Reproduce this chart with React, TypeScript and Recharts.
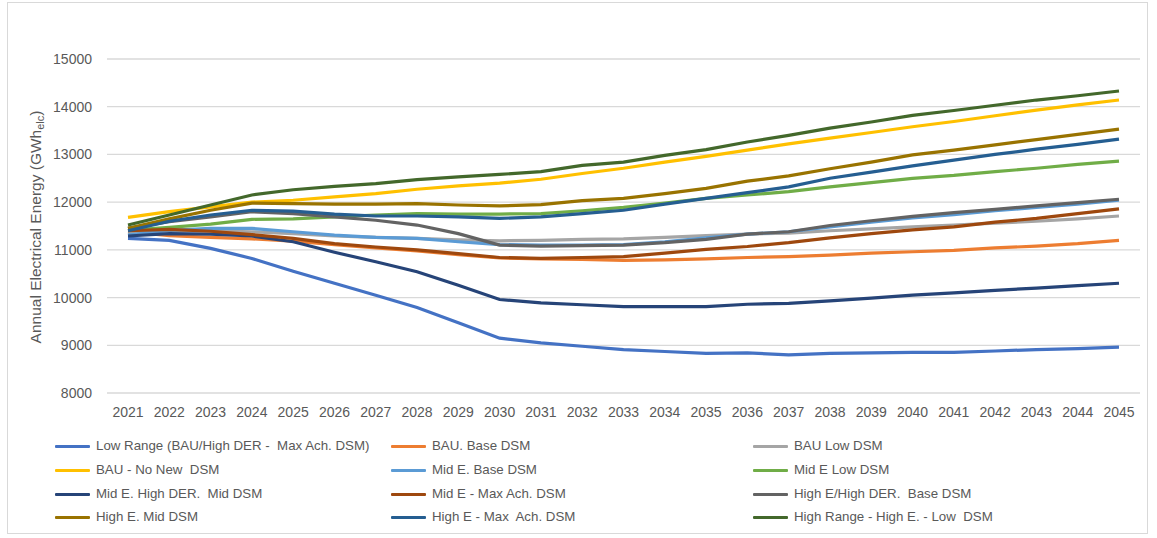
import React from 'react';
import { LineChart, Line, XAxis, YAxis, CartesianGrid } from 'recharts';

const years = ['2021','2022','2023','2024','2025','2026','2027','2028','2029','2030','2031','2032','2033','2034','2035','2036','2037','2038','2039','2040','2041','2042','2043','2044','2045'];
const yTicks = [8000, 9000, 10000, 11000, 12000, 13000, 14000, 15000];

const lowRange = [11240, 11200, 11030, 10820, 10550, 10300, 10050, 9790, 9470, 9150, 9050, 8980, 8910, 8870, 8830, 8840, 8800, 8830, 8840, 8850, 8850, 8880, 8910, 8930, 8960];
const bauBase = [11380, 11300, 11260, 11230, 11180, 11110, 11040, 10980, 10900, 10830, 10810, 10800, 10780, 10790, 10810, 10840, 10860, 10890, 10930, 10960, 10990, 11040, 11080, 11130, 11200];
const bauLow = [11360, 11400, 11400, 11380, 11340, 11290, 11260, 11240, 11210, 11190, 11200, 11220, 11230, 11260, 11300, 11330, 11350, 11400, 11440, 11480, 11520, 11560, 11600, 11650, 11710];
const bauNoNew = [11680, 11800, 11900, 12000, 12040, 12110, 12180, 12270, 12340, 12400, 12480, 12600, 12710, 12840, 12960, 13090, 13220, 13340, 13460, 13580, 13690, 13810, 13930, 14040, 14140];
const midBase = [11310, 11410, 11450, 11450, 11380, 11310, 11260, 11240, 11170, 11110, 11100, 11100, 11110, 11170, 11250, 11330, 11380, 11480, 11580, 11670, 11740, 11820, 11890, 11960, 12040];
const midLow = [11410, 11470, 11540, 11640, 11650, 11690, 11730, 11760, 11750, 11750, 11760, 11820, 11890, 11980, 12080, 12150, 12220, 12320, 12410, 12500, 12560, 12640, 12710, 12790, 12860];
const midHighDer = [11290, 11340, 11330, 11290, 11170, 10950, 10750, 10540, 10260, 9960, 9890, 9850, 9810, 9810, 9810, 9860, 9880, 9930, 9990, 10050, 10100, 10150, 10200, 10250, 10300];
const midMax = [11400, 11430, 11390, 11320, 11240, 11130, 11060, 11000, 10920, 10840, 10820, 10840, 10860, 10930, 11010, 11070, 11150, 11250, 11340, 11420, 11480, 11580, 11660, 11760, 11860];
const highHighDer = [11450, 11590, 11690, 11800, 11760, 11690, 11620, 11520, 11340, 11100, 11080, 11090, 11100, 11150, 11220, 11330, 11380, 11510, 11610, 11700, 11780, 11850, 11920, 11990, 12060];
const highMid = [11450, 11650, 11830, 11980, 11970, 11960, 11960, 11970, 11940, 11920, 11950, 12030, 12080, 12180, 12290, 12440, 12550, 12700, 12840, 12990, 13090, 13200, 13310, 13420, 13530];
const highMax = [11400, 11600, 11730, 11830, 11810, 11750, 11710, 11710, 11690, 11660, 11690, 11760, 11830, 11960, 12080, 12200, 12320, 12500, 12630, 12760, 12880, 13000, 13110, 13210, 13320];
const highRange = [11520, 11730, 11940, 12150, 12260, 12330, 12390, 12470, 12530, 12580, 12640, 12770, 12840, 12980, 13100, 13260, 13400, 13550, 13680, 13820, 13920, 14030, 14140, 14230, 14330];

const seriesDefs = [
  { key: 's0', name: 'Low Range (BAU/High DER -  Max Ach. DSM)', color: '#4472C4', values: lowRange },
  { key: 's1', name: 'BAU. Base DSM', color: '#ED7D31', values: bauBase },
  { key: 's2', name: 'BAU Low DSM', color: '#A5A5A5', values: bauLow },
  { key: 's3', name: 'BAU - No New  DSM', color: '#FFC000', values: bauNoNew },
  { key: 's4', name: 'Mid E. Base DSM', color: '#5B9BD5', values: midBase },
  { key: 's5', name: 'Mid E Low DSM', color: '#70AD47', values: midLow },
  { key: 's6', name: 'Mid E. High DER.  Mid DSM', color: '#264478', values: midHighDer },
  { key: 's7', name: 'Mid E - Max Ach. DSM', color: '#9E480E', values: midMax },
  { key: 's8', name: 'High E/High DER.  Base DSM', color: '#636363', values: highHighDer },
  { key: 's9', name: 'High E. Mid DSM', color: '#997300', values: highMid },
  { key: 's10', name: 'High E - Max  Ach. DSM', color: '#255E91', values: highMax },
  { key: 's11', name: 'High Range - High E. - Low  DSM', color: '#43682B', values: highRange },
];

const data = years.map((y, i) => {
  const row: Record<string, string | number> = { year: y };
  seriesDefs.forEach((s) => { row[s.key] = s.values[i]; });
  return row;
});

const FONT = '"Liberation Sans", Arial, sans-serif';
const TEXT = '#595959';

const colX = [55, 391, 753];
const rowY = [446, 470, 494, 517];

const LegendBlock = () => (
  <div style={{ position: 'absolute', left: 0, top: 0, width: 1157, height: 538, pointerEvents: 'none' }}>
    {seriesDefs.map((s, i) => {
      const c = i % 3;
      const r = Math.floor(i / 3);
      return (
        <div key={s.key} style={{ position: 'absolute', left: colX[c], top: rowY[r] - 9, height: 18, display: 'flex', alignItems: 'center' }}>
          <div style={{ width: 35, height: 3, background: s.color, borderRadius: 1 }} />
          <span style={{ marginLeft: 6, fontFamily: FONT, fontSize: 13.3, color: TEXT, whiteSpace: 'pre', lineHeight: '18px' }}>{s.name}</span>
        </div>
      );
    })}
  </div>
);

const YLabel = () => (
  <text transform="translate(41, 227) rotate(-90)" textAnchor="middle" fontFamily={FONT} fontSize={15.5} fill={TEXT}>
    <tspan>Annual Electrical Energy (GWh</tspan>
    <tspan fontSize={11} dy={3}>elc</tspan>
    <tspan dy={-3}>)</tspan>
  </text>
);

export default function App() {
  return (
    <div style={{ position: 'absolute', left: 0, top: 0, width: 1157, height: 538, background: '#fff' }}>
      <div style={{ position: 'absolute', left: 7, top: 2, width: 1141, height: 532, border: '1px solid #d9d9d9', boxSizing: 'border-box' }} />
      <div style={{ position: 'absolute', left: 0, top: 0 }}>
        <LineChart width={1157} height={538} data={data} margin={{ top: 59, right: 17, bottom: 115, left: 47 }}>
          <CartesianGrid vertical={false} stroke="#d9d9d9" strokeWidth={1.3} />
          <XAxis
            dataKey="year"
            height={30}
            axisLine={false}
            tickLine={false}
            tickSize={0}
            tickMargin={14}
            padding={{ left: 21, right: 21 }}
            interval={0}
            tick={{ fontFamily: FONT, fontSize: 14, fill: TEXT }}
          />
          <YAxis
            width={60}
            domain={[8000, 15000]}
            ticks={yTicks}
            axisLine={false}
            tickLine={false}
            tickSize={0}
            tickMargin={15}
            tick={{ fontFamily: FONT, fontSize: 14, fill: TEXT }}
            label={{ content: () => <YLabel /> }}
          />
          {seriesDefs.map((s) => (
            <Line
              key={s.key}
              type="linear"
              dataKey={s.key}
              name={s.name}
              stroke={s.color}
              strokeWidth={3.2}
              dot={false}
              activeDot={false}
              isAnimationActive={false}
            />
          ))}
        </LineChart>
      </div>
      <LegendBlock />
    </div>
  );
}
